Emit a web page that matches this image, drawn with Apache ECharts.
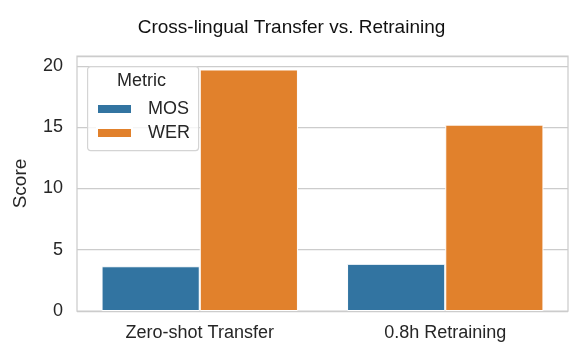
<!DOCTYPE html>
<html><head><meta charset="utf-8">
<script src="https://cdn.jsdelivr.net/npm/echarts@6/dist/echarts.min.js"></script>
<style>html,body{margin:0;padding:0;background:#fff}#c{width:583px;height:359px}</style>
</head><body><div id="c"></div>
<script>
const categories = ["Zero-shot Transfer", "0.8h Retraining"];
const mosValues = [3.65, 3.85];
const werValues = [19.7, 15.2];
const seriesNames = ["MOS", "WER"];
const colors = ["#3274a1", "#e1812c"];
const FONT = "Liberation Sans, Arial, sans-serif";
const chart = echarts.init(document.getElementById('c'), null, {renderer: 'canvas'});
chart.setOption({
  animation: false,
  textStyle: {fontFamily: FONT},
  title: {text: "Cross-lingual Transfer vs. Retraining", left: 'center', top: 13,
    textStyle: {fontFamily: FONT, fontSize: 19, fontWeight: 'normal', color: '#111111'}},
  grid: {left: 77, right: 15, top: 56, bottom: 48, show: true, borderColor: '#cccccc', borderWidth: 1.25},
  xAxis: {type: 'category', data: categories,
    axisLine: {show: false}, axisTick: {show: false}, splitLine: {show: false},
    axisLabel: {fontFamily: FONT, fontSize: 18, color: '#262626', margin: 13}},
  yAxis: {type: 'value', min: 0, max: 20.8, interval: 5,
    name: 'Score', nameLocation: 'middle', nameGap: 47, nameRotate: 90,
    nameTextStyle: {fontFamily: FONT, fontSize: 19, color: '#262626'},
    axisLine: {show: false}, axisTick: {show: false},
    splitLine: {lineStyle: {color: '#cccccc', width: 1.25}},
    axisLabel: {fontFamily: FONT, fontSize: 18, color: '#262626', margin: 14, showMaxLabel: false}},
  legend: {orient: 'vertical', left: 96, top: 100, padding: 0, itemWidth: 35, itemHeight: 10, itemGap: 6, z: 10,
    icon: 'rect', data: seriesNames,
    textStyle: {fontFamily: FONT, fontSize: 18, color: '#262626', padding: [0, 0, 0, 11]}},
  graphic: [
    {type: 'rect', left: 87, top: 66, z: 5,
     shape: {width: 111, height: 84, r: 3},
     style: {fill: 'rgba(255,255,255,0.8)', stroke: '#d4d4d4', lineWidth: 1.2}},
    {type: 'text', left: 117, top: 72, z: 6,
     style: {text: 'Metric', font: '18px ' + FONT, fill: '#262626'}}
  ],
  series: [
    {name: seriesNames[0], type: 'bar', data: mosValues, barGap: '0%', barCategoryGap: '20%',
     itemStyle: {color: colors[0], borderColor: '#ffffff', borderWidth: 1}},
    {name: seriesNames[1], type: 'bar', data: werValues,
     itemStyle: {color: colors[1], borderColor: '#ffffff', borderWidth: 1}}
  ]
});
</script></body></html>
